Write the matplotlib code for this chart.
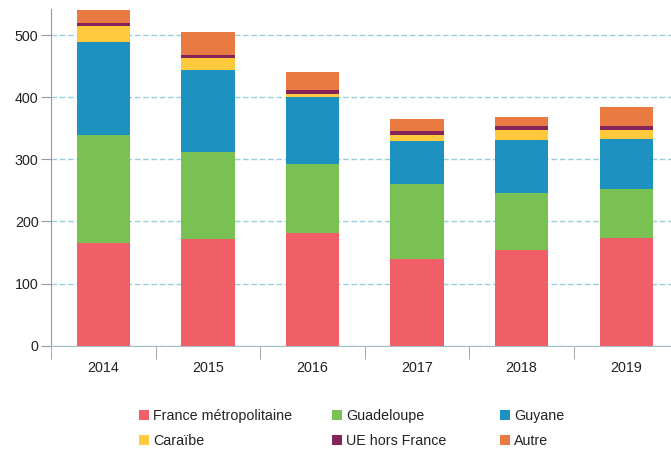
import numpy as np
import matplotlib
matplotlib.use("Agg")
import matplotlib.pyplot as plt
from matplotlib.patches import Patch

plt.rcParams["font.family"] = ["Liberation Sans", "DejaVu Sans"]

# Data
years = ["2014", "2015", "2016", "2017", "2018", "2019"]
france_metro = [165, 172, 181, 139.5, 154, 173]
guadeloupe = [174, 140, 111, 120.5, 92, 79]
guyane = [150, 132, 108, 69.5, 85, 81]
caraibe = [26, 19, 5, 9.5, 16, 14.5]
ue_hors_france = [4.5, 5, 6.5, 6.5, 6.5, 6.5]
autre = [21, 37, 29, 19.5, 14.5, 30.5]

series = [
    ("France métropolitaine", france_metro, "#f05f67"),
    ("Guadeloupe", guadeloupe, "#78c152"),
    ("Guyane", guyane, "#1d91c0"),
    ("Caraïbe", caraibe, "#ffc93e"),
    ("UE hors France", ue_hors_france, "#84245b"),
    ("Autre", autre, "#e97a41"),
]

fig = plt.figure(figsize=(6.71, 4.5), dpi=100)
W, H = 671, 450
ax = fig.add_axes([51 / W, (H - 345.7) / H, 627.5 / W, 336.7 / H])

x = np.arange(len(years))
bottom = np.zeros(len(years))
for name, vals, col in series:
    ax.bar(x, vals, bottom=bottom, width=0.51, color=col, zorder=3, label=name)
    bottom += np.array(vals)

ax.set_xlim(-0.5, len(years) - 0.5)
ax.set_ylim(0, 542)
ax.set_yticks([0, 100, 200, 300, 400, 500])
ax.yaxis.grid(True, color="#96d0e0", linestyle=(0, (4, 2)), linewidth=1, zorder=0)

# axes styling
for side in ["top", "right"]:
    ax.spines[side].set_visible(False)
ax.spines["left"].set_color("#999999")
ax.spines["bottom"].set_color("#a9bcc4")
ax.spines["left"].set_bounds(0, 542)

ax.set_xticks(x)
ax.set_xticklabels(years)
ax.set_xticks(np.arange(len(years) + 1) - 0.5, minor=True)
ax.tick_params(axis="x", which="major", length=0, pad=11, labelsize=10.3, colors="#222222")
ax.tick_params(axis="x", which="minor", length=9, color="#999999")
ax.tick_params(axis="y", length=7, color="#999999", labelsize=10.3, labelcolor="#222222", pad=2)

# legend split in three columns
handles = [Patch(facecolor=c, edgecolor="none") for _, _, c in series]
labels = [n for n, _, _ in series]
col_x = [139, 332, 500]
for i, cx in enumerate(col_x):
    leg = fig.legend(
        [handles[i], handles[i + 3]], [labels[i], labels[i + 3]],
        loc="upper left", bbox_to_anchor=(cx / W, 1 - 409 / H),
        frameon=False, fontsize=10.3, handlelength=0.7, handleheight=0.7,
        handletextpad=0.3, labelspacing=0.8, borderaxespad=0, borderpad=0,
    )
    for t in leg.get_texts():
        t.set_color("#222222")

plt.savefig("out.png", dpi=100)
